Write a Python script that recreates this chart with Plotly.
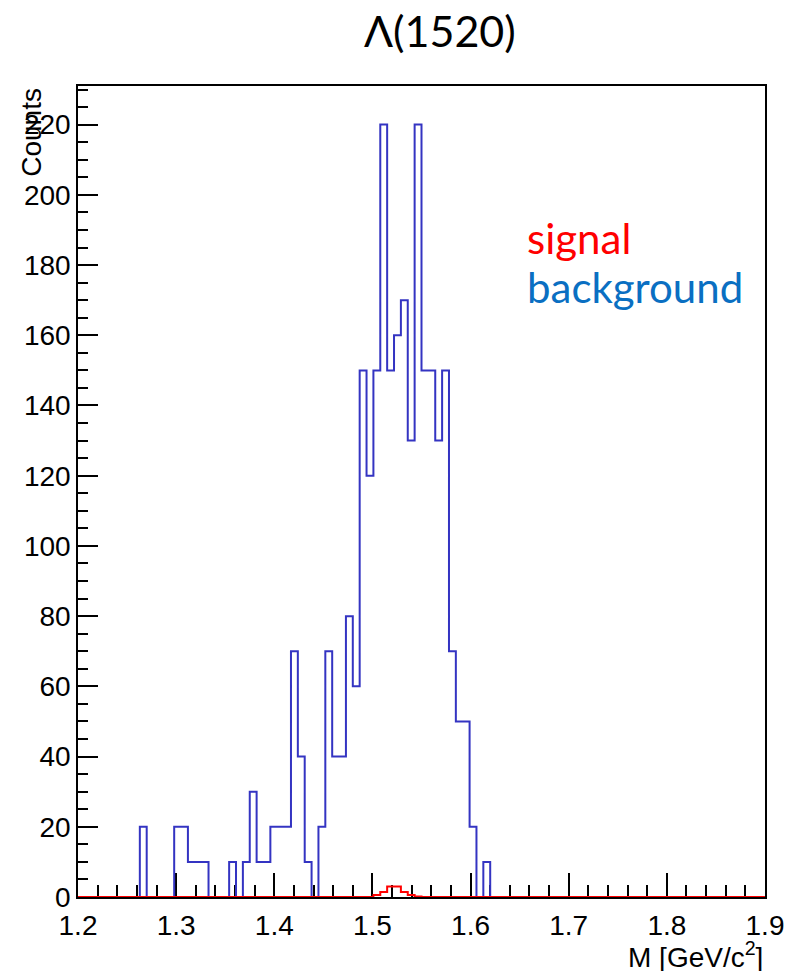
import plotly.graph_objects as go

# Histogram definition: 100 bins from 1.2 to 1.9 GeV/c^2
x_min = 1.2
x_max = 1.9
n_bins = 100

# Background counts per bin (bins 0..99)
background = [
    0, 0, 0, 0, 0, 0, 0, 0, 0, 20,        # 0-9
    0, 0, 0, 0, 20, 20, 10, 10, 10, 0,    # 10-19
    0, 0, 10, 0, 10, 30, 10, 10, 20, 20,  # 20-29
    20, 70, 40, 10, 0, 20, 70, 40, 40, 80,  # 30-39
    60, 150, 120, 150, 220, 150, 160, 170, 130, 220,  # 40-49
    150, 150, 130, 150, 70, 50, 50, 20, 0, 10,  # 50-59
] + [0] * 40

# Signal counts per bin
signal = [0] * 43 + [0.6, 1.4, 3.0, 3.0, 1.4, 0.6, 0.15] + [0] * 50

title_text = "Λ(1520)"
x_title = "M [GeV/c<sup>2</sup>]"
y_title = "Counts"

width = (x_max - x_min) / n_bins
edges = [x_min + i * width for i in range(n_bins + 1)]


def step(vals):
    return edges, list(vals) + [vals[-1]]


fig = go.Figure()
bx, by = step(background)
fig.add_trace(go.Scatter(x=bx, y=by, mode="lines", line=dict(shape="hv", color="#3434c2", width=2),
                         hoverinfo="skip", showlegend=False))
sx, sy = step(signal)
fig.add_trace(go.Scatter(x=sx, y=sy, mode="lines", line=dict(shape="hv", color="#ff0000", width=2),
                         hoverinfo="skip", showlegend=False))

axis_font = dict(family="Liberation Sans, Arial, sans-serif", size=28, color="black")
comic = "Comic Sans MS, Lato, sans-serif"

fig.update_layout(
    width=796, height=971,
    margin=dict(l=78, r=31, t=86, b=74),
    paper_bgcolor="white", plot_bgcolor="white",
    xaxis=dict(range=[x_min, x_max], dtick=0.1, tick0=1.2, ticks="inside", ticklen=24,
               tickcolor="black", tickwidth=1.5, showline=True, linecolor="black", linewidth=1.5,
               mirror=True, showgrid=False, zeroline=False, tickfont=axis_font, automargin=False,
               tickformat=".1f", ticklabelstandoff=3, layer="below traces",
               minor=dict(dtick=0.02, ticks="inside", ticklen=12, tickcolor="black", tickwidth=1.5)),
    yaxis=dict(range=[0, 231], dtick=20, ticks="inside", ticklen=20, tickcolor="black",
               tickwidth=1.5, showline=True, linecolor="black", linewidth=1.5, mirror=True,
               showgrid=False, zeroline=False, tickfont=axis_font, layer="below traces",
               automargin=False,
               minor=dict(dtick=5, ticks="inside", ticklen=10, tickcolor="black", tickwidth=1.5)),
    annotations=[
        dict(text=title_text, xref="paper", yref="paper", x=0.527, y=1.069, xanchor="center",
             yanchor="middle", showarrow=False,
             font=dict(family=comic, size=43, color="black")),
        dict(text="signal", xref="paper", yref="paper", x=0.651, y=0.812, xanchor="left",
             yanchor="middle", showarrow=False,
             font=dict(family=comic, size=42, color="#ff0000")),
        dict(text="background", xref="paper", yref="paper", x=0.651, y=0.752, xanchor="left",
             yanchor="middle", showarrow=False,
             font=dict(family=comic, size=42, color="#0a6fc2")),
        dict(text=y_title, xref="paper", yref="paper", x=-0.068, y=1.0, xanchor="center",
             yanchor="top", textangle=-90, showarrow=False, font=axis_font),
        dict(text=x_title, xref="paper", yref="paper", x=1.0, y=-0.071, xanchor="right",
             yanchor="middle", showarrow=False, font=axis_font),
    ],
)

# remove the default 8px page margin so the 796x971 figure fills the window exactly
fig.write_html("out.html", config={"displayModeBar": False},
               post_script="document.body.style.margin='0px';")
